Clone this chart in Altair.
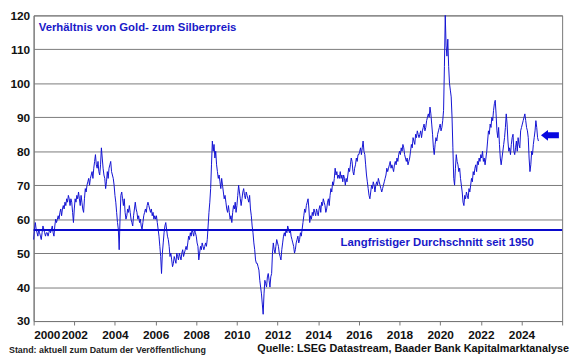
import altair as alt
import pandas as pd

# Gold/silver price ratio, half-monthly readings (24 per year), starting Jan 2000
ratio_2000 = [54, 57, 59, 57, 56, 55, 57, 56, 55, 54, 56, 58, 57, 56, 55, 56, 56, 55, 56, 57, 56, 57, 58, 56]
ratio_2001 = [55, 58, 60, 59, 60, 61, 60, 62, 63, 61, 63, 64, 63, 65, 64, 66, 65, 67, 66, 64, 66, 65, 62, 59]
ratio_2002 = [63, 66, 65, 67, 66, 68, 66, 64, 67, 65, 63, 62, 66, 69, 68, 70, 71, 72, 70, 72, 73, 74, 72, 75]
ratio_2003 = [77, 79, 76, 75, 77, 74, 73, 76, 81, 78, 75, 73, 72, 69, 71, 74, 72, 75, 76, 77, 74, 73, 72, 70]
ratio_2004 = [67, 65, 62, 59, 57, 51, 60, 67, 68, 66, 64, 66, 62, 60, 61, 63, 62, 64, 62, 60, 59, 58, 61, 63]
ratio_2005 = [65, 63, 62, 60, 61, 59, 60, 58, 57, 59, 61, 62, 63, 62, 64, 65, 64, 63, 62, 63, 61, 62, 60, 61]
ratio_2006 = [60, 61, 59, 57, 55, 52, 49, 44, 50, 53, 56, 58, 59, 57, 55, 54, 52, 49, 50, 48, 46, 47, 49, 48]
ratio_2007 = [47, 50, 49, 48, 50, 49, 48, 50, 51, 49, 50, 51, 52, 51, 53, 55, 54, 56, 55, 57, 56, 55, 57, 56]
ratio_2008 = [55, 53, 52, 48, 50, 52, 51, 53, 52, 51, 52, 53, 52, 54, 58, 62, 65, 69, 76, 83, 80, 82, 78, 80]
ratio_2009 = [76, 74, 72, 73, 71, 69, 72, 70, 68, 66, 67, 65, 63, 62, 64, 62, 60, 61, 59, 62, 64, 63, 65, 62]
ratio_2010 = [64, 67, 70, 68, 66, 64, 66, 68, 69, 67, 66, 68, 67, 66, 65, 67, 63, 61, 58, 56, 53, 51, 48, 47]
ratio_2011 = [47, 46, 45, 42, 40, 38, 35, 32, 38, 42, 41, 40, 43, 44, 42, 40, 43, 44, 50, 53, 51, 50, 52, 54]
ratio_2012 = [53, 52, 50, 49, 48, 51, 53, 55, 56, 55, 57, 56, 58, 57, 56, 57, 55, 54, 53, 52, 50, 51, 53, 54]
ratio_2013 = [55, 53, 54, 56, 55, 57, 59, 61, 63, 62, 64, 65, 66, 63, 59, 61, 60, 62, 61, 63, 62, 61, 63, 62]
ratio_2014 = [61, 63, 64, 62, 65, 64, 66, 65, 64, 62, 63, 65, 66, 64, 67, 69, 68, 71, 70, 72, 75, 73, 74, 72]
ratio_2015 = [73, 72, 74, 72, 73, 71, 73, 72, 70, 72, 71, 73, 75, 74, 76, 78, 77, 74, 73, 75, 76, 78, 77, 79]
ratio_2016 = [79, 80, 81, 79, 81, 83, 80, 79, 76, 73, 71, 69, 67, 66, 68, 70, 69, 71, 70, 68, 70, 71, 70, 72]
ratio_2017 = [71, 70, 69, 68, 69, 70, 71, 72, 73, 75, 74, 75, 76, 77, 75, 76, 75, 74, 76, 77, 76, 78, 77, 79]
ratio_2018 = [80, 79, 81, 80, 82, 81, 79, 78, 77, 78, 76, 77, 78, 80, 82, 81, 84, 83, 82, 85, 84, 86, 85, 84]
ratio_2019 = [85, 86, 84, 86, 87, 88, 86, 87, 89, 90, 91, 90, 93, 91, 88, 85, 81, 79, 82, 84, 83, 85, 86, 87]
ratio_2020 = [88, 86, 87, 89, 92, 105, 120, 111, 108, 113, 105, 100, 98, 96, 90, 81, 72, 70, 75, 79, 77, 76, 74, 75]
ratio_2021 = [72, 70, 68, 65, 64, 67, 66, 68, 67, 66, 69, 68, 70, 72, 71, 74, 73, 75, 76, 74, 77, 76, 78, 77]
ratio_2022 = [79, 78, 80, 77, 78, 76, 78, 80, 83, 86, 85, 88, 87, 90, 89, 92, 94, 95, 91, 86, 84, 87, 82, 78]
ratio_2023 = [76, 78, 80, 82, 84, 87, 91, 88, 83, 80, 81, 79, 82, 84, 85, 80, 79, 81, 83, 80, 84, 82, 81, 86]
ratio_2024 = [87, 88, 89, 90, 91, 89, 87, 86, 84, 78, 74, 76, 80, 79, 82, 84, 86, 89, 87, 84, 83]

yearly = [ratio_2000, ratio_2001, ratio_2002, ratio_2003, ratio_2004, ratio_2005, ratio_2006,
          ratio_2007, ratio_2008, ratio_2009, ratio_2010, ratio_2011, ratio_2012, ratio_2013,
          ratio_2014, ratio_2015, ratio_2016, ratio_2017, ratio_2018, ratio_2019, ratio_2020,
          ratio_2021, ratio_2022, ratio_2023, ratio_2024]

long_term_average = 56.8
latest_marker = 84.7
x_ticks = list(range(2000, 2027, 2))
y_ticks = list(range(30, 121, 10))

rows = []
for k, vals in enumerate(yearly):
    for j, v in enumerate(vals):
        rows.append({"t": 2000 + k + j / 24, "ratio": v})
df = pd.DataFrame(rows)

FONT = "Liberation Sans"
LINE_BLUE = "#1212D2"
TEXT_BLUE = "#1818C8"

x_scale = alt.Scale(domain=[2000, 2026], nice=False, zero=False)
y_scale = alt.Scale(domain=[30, 120], nice=False, zero=False)

x_axis = alt.Axis(values=x_ticks, format="d", title=None, grid=False, labelOverlap=False,
                  labelExpr="datum.value == 2026 ? '' : datum.label",
                  labelFont=FONT, labelFontSize=12, labelFontWeight="bold", labelColor="#111",
                  tickSize=4, tickColor="#777", domainColor="#777", labelPadding=5)
y_axis = alt.Axis(values=y_ticks, title=None, grid=True, gridColor="#7a7a7a", gridWidth=1,
                  labelOverlap=False,
                  labelFont=FONT, labelFontSize=12, labelFontWeight="bold", labelColor="#111",
                  tickSize=0, domainColor="#777", labelPadding=4)

X = lambda f: alt.X(f, scale=x_scale, axis=x_axis)
Y = lambda f: alt.Y(f, scale=y_scale, axis=y_axis)

line = alt.Chart(df).mark_line(color=LINE_BLUE, strokeWidth=1).encode(
    x=X("t:Q"), y=Y("ratio:Q"))

avg = alt.Chart(pd.DataFrame({"v": [long_term_average]})).mark_rule(
    color="#0A0ACC", strokeWidth=2).encode(y=Y("v:Q"))

ann = pd.DataFrame({
    "t": [2000.25, 2015.1],
    "v": [116.3, 53.1],
    "label": ["Verhältnis von Gold- zum Silberpreis", "Langfristiger Durchschnitt seit 1950"],
})
ann_text = alt.Chart(ann).mark_text(
    align="left", baseline="middle", font=FONT, fontSize=11.5, fontWeight="bold", color=TEXT_BLUE
).encode(x=X("t:Q"), y=Y("v:Q"), text="label:N")

arrow_shape = "M -1 0 L -0.22 -0.6 L -0.22 -0.33 L 1 -0.33 L 1 0.33 L -0.22 0.33 L -0.22 0.6 Z"
arrow = alt.Chart(pd.DataFrame({"t": [2025.4], "v": [latest_marker]})).mark_point(
    shape=arrow_shape, size=330, filled=True, color="#0808E0", opacity=1, strokeWidth=0
).encode(x=X("t:Q"), y=Y("v:Q"))

foot = pd.DataFrame({"k": [0]})
stand = alt.Chart(foot).mark_text(
    text="Stand: aktuell zum Datum der Veröffentlichung", align="left", baseline="middle",
    font=FONT, fontSize=9, fontWeight="bold", color="#222"
).encode(x=alt.value(-25), y=alt.value(339))
quelle = alt.Chart(foot).mark_text(
    text="Quelle: LSEG Datastream, Baader Bank Kapitalmarktanalyse", align="right",
    baseline="middle", font=FONT, fontSize=11, fontWeight="bold", color="#111"
).encode(x=alt.value(543), y=alt.value(338))

chart = alt.layer(line, avg, ann_text, arrow, stand, quelle).properties(
    width=536, height=310,
    autosize=alt.AutoSizeParams(type="none"),
    padding={"left": 26, "top": 5, "right": 10, "bottom": 36},
    background="white",
).configure_view(stroke="#777", strokeWidth=1)

chart.save("out.html", embed_options={"renderer": "svg", "actions": False})
